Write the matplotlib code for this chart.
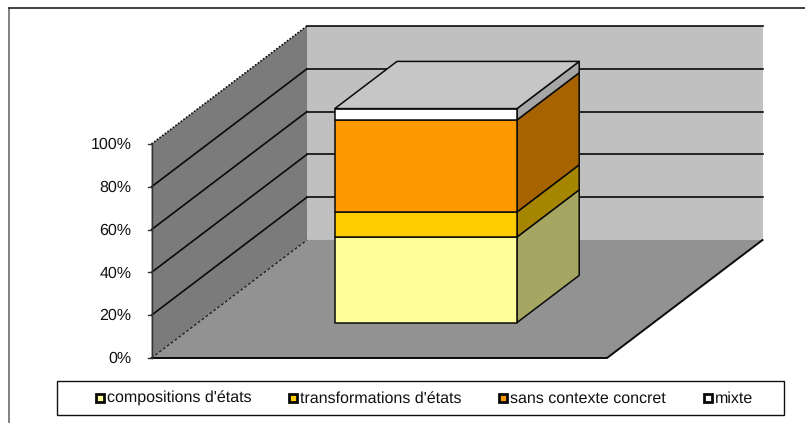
import matplotlib
matplotlib.use("Agg")
import matplotlib.pyplot as plt
from matplotlib.patches import Polygon, Rectangle
from matplotlib.ticker import FuncFormatter

plt.rcParams['font.family'] = ['Liberation Sans', 'DejaVu Sans']
plt.rcParams['text.hinting'] = 'none'
plt.rcParams['text.hinting_factor'] = 1

# ---- data ----
series = ["compositions d'états", "transformations d'états", "sans contexte concret", "mixte"]
values = [40, 11.7, 43, 5.3]
front_colors = ["#FFFF99", "#FFCC00", "#FF9900", "#FFFFFF"]
side_colors = ["#A6A663", "#A68500", "#A66300", "#A6A6A6"]
top_color = "#C6C6C6"
ticks = [0, 20, 40, 60, 80, 100]
wall_levels = [0, 20, 40, 60, 80, 100]

W, H = 805, 423
fig = plt.figure(figsize=(W / 100, H / 100), dpi=100, facecolor="white")
ax = fig.add_axes([0, 0, 1, 1])
ax.set_xlim(0, W)
ax.set_ylim(H, 0)
ax.axis("off")

# oblique projection of the chart box: u across, v value (%), d depth
OX, OY = 151.5, 358.0
WX, PX_PER_PCT = 455.5, 2.14
DX, DY = 155.5, -118.0


def P(u, v, d):
    return (OX + WX * u + DX * d, OY - PX_PER_PCT * v + DY * d)


def poly(pts, fc, ec="none", lw=0, z=1):
    ax.add_patch(Polygon(pts, closed=True, facecolor=fc, edgecolor=ec, linewidth=lw, zorder=z, joinstyle="round"))


# chart frame: only the top and left edges show in the picture
ax.plot([8.5, 8.5], [423, 8.5], color="#777777", lw=1.3, zorder=0)
ax.plot([8.5, 805], [8.5, 8.5], color="#333333", lw=1.3, zorder=0)

# walls and floor
poly([P(0, 0, 1), P(1, 0, 1), P(1, 100, 1), P(0, 100, 1)], "#C0C0C0", z=1)
poly([P(0, 0, 0), P(0, 0, 1), P(0, 100, 1), P(0, 100, 0)], "#7B7B7B", z=1)
poly([P(0, 0, 0), P(1, 0, 0), P(1, 0, 1), P(0, 0, 1)], "#929292", z=1)

# gridlines
for lv in wall_levels[1:]:
    a, b, c = P(0, lv, 0), P(0, lv, 1), P(1, lv, 1)
    style = (0, (1, 1)) if lv == 100 else "-"
    ax.plot([a[0], b[0]], [a[1], b[1]], color="#0A0A0A", lw=1.2, ls=style, zorder=2)
    ax.plot([b[0], c[0]], [b[1], c[1]], color="#0A0A0A", lw=1.2, zorder=2)
# floor outline
a, b, c, d = P(0, 0, 1), P(1, 0, 1), P(1, 0, 0), P(0, 0, 0)
ax.plot([b[0], c[0], d[0]], [b[1], c[1], d[1]], color="#0A0A0A", lw=1.4, zorder=2)
ax.plot([d[0], a[0]], [d[1], a[1]], color="#222222", lw=1.0, ls=(0, (2, 1.5)), zorder=2)

# value axis
top = P(0, 100, 0)
ax.plot([OX, OX], [OY, top[1]], color="#333333", lw=1.0, zorder=3)
for t in ticks:
    x, y = P(0, t, 0)
    ax.plot([x - 4, x], [y, y], color="#333333", lw=1.0, zorder=3)
    ax.text(x - 20, y + 5, FuncFormatter(lambda v, _: f"{v:.0f}%")(t), ha="right", va="baseline",
            fontsize=11.6, color="#111111", zorder=3)

# the stacked 3-D bar
U0, U1, D0, D1 = 0.3, 0.7, 0.3, 0.7
bottom = 0
for val, fc, sc in zip(values, front_colors, side_colors):
    t = bottom + val
    poly([P(U1, bottom, D0), P(U1, bottom, D1), P(U1, t, D1), P(U1, t, D0)], sc, "#0A0A0A", 1.1, z=4)
    poly([P(U0, bottom, D0), P(U1, bottom, D0), P(U1, t, D0), P(U0, t, D0)], fc, "#0A0A0A", 1.1, z=5)
    bottom = t
poly([P(U0, bottom, D0), P(U1, bottom, D0), P(U1, bottom, D1), P(U0, bottom, D1)], top_color, "#0A0A0A", 1.1, z=6)

# legend
ax.add_patch(Rectangle((57, 381.5), 727, 33.5, facecolor="white", edgecolor="#111111", lw=1.0, zorder=7))
legend_x = [95, 287.5, 498, 703]
for name, fc, x in zip(series, front_colors, legend_x):
    ax.add_patch(Rectangle((x + 1, 394), 8, 8.5, facecolor=fc, edgecolor="#0A0A0A", lw=2.0, zorder=8))
    ax.text(x + 12, 403, name, ha="left", va="baseline", fontsize=11.4, color="#111111", zorder=8)

fig.savefig("out.png", dpi=100)
